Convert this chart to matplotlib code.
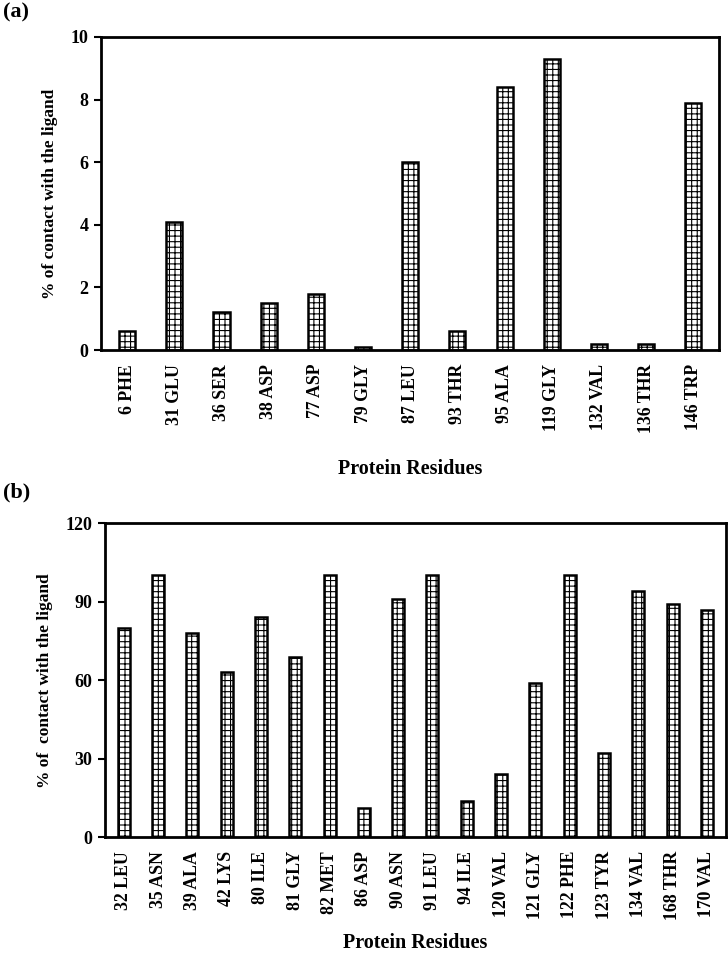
import matplotlib
matplotlib.use("Agg")
import matplotlib.pyplot as plt

plt.rcParams['font.family'] = ['Liberation Serif', 'DejaVu Serif']
plt.rcParams['font.weight'] = 'bold'
plt.rcParams['hatch.linewidth'] = 0.8

res_a = ["6 PHE", "31 GLU", "36 SER", "38 ASP", "77 ASP", "79 GLY", "87 LEU",
         "93 THR", "95 ALA", "119 GLY", "132 VAL", "136 THR", "146 TRP"]
val_a = [0.6, 4.1, 1.2, 1.5, 1.8, 0.1, 6.0, 0.6, 8.4, 9.3, 0.2, 0.2, 7.9]

res_b = ["32 LEU", "35 ASN", "39 ALA", "42 LYS", "80 ILE", "81 GLY", "82 MET",
         "86 ASP", "90 ASN", "91 LEU", "94 ILE", "120 VAL", "121 GLY", "122 PHE",
         "123 TYR", "134 VAL", "168 THR", "170 VAL"]
val_b = [80, 100, 78, 63, 84, 69, 100, 11, 91, 100, 14, 24, 59, 100, 32, 94, 89, 87]

yt_a = [0, 2, 4, 6, 8, 10]
yt_b = [0, 30, 60, 90, 120]

fig = plt.figure(figsize=(7.28, 9.59), dpi=100)

def panel(rect, labels, vals, yticks, ylabel, width, tag, tagpos, xpad):
    ax = fig.add_axes(rect)
    x = list(range(len(labels)))
    ax.bar(x, vals, width=width, color='white', edgecolor='black',
           linewidth=1.8, hatch='+++')
    ax.set_xlim(-0.55, len(labels) - 0.45)
    ax.set_ylim(yticks[0], yticks[-1])
    ax.set_yticks(yticks)
    ax.set_yticklabels([str(t) for t in yticks], fontsize=13, fontweight='bold')
    ax.set_xticks(x)
    ax.set_xticklabels(labels, rotation=90, fontsize=12.8, fontweight='bold')
    ax.tick_params(axis='x', length=0, pad=10)
    ax.tick_params(axis='y', direction='out', length=5, width=1.5, pad=4)
    for s in ax.spines.values():
        s.set_linewidth(2)
    ax.set_ylabel(ylabel, fontsize=12.5, fontweight='bold', labelpad=9)
    ax.set_xlabel("Protein Residues", fontsize=14.5, fontweight='bold', labelpad=xpad)
    fig.text(tagpos[0], tagpos[1], tag, fontsize=16, fontweight='bold',
             ha='left', va='top')
    return ax

panel([0.139, 0.635, 0.849, 0.3265], res_a, val_a, yt_a,
      "% of contact with the ligand", 0.34, "(a)", (0.004, 0.997), 19)
panel([0.144, 0.127, 0.853, 0.3275], res_b, val_b, yt_b,
      "% of  contact with the ligand", 0.35, "(b)", (0.004, 0.497), 9)

fig.savefig("out.png", dpi=100)
